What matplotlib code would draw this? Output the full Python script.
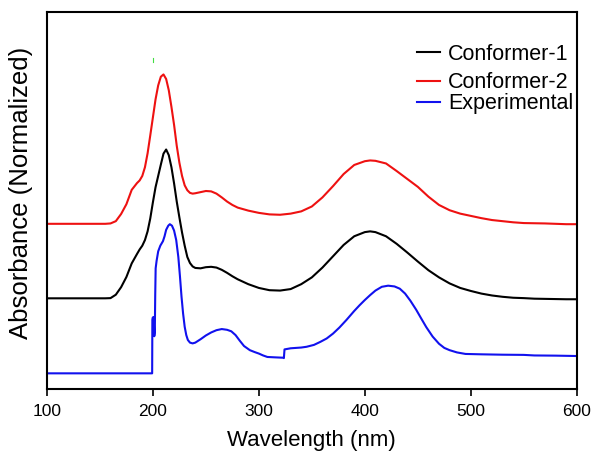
import numpy as np
from matplotlib import pyplot as plt

plt.rcParams['font.family'] = ['Liberation Sans', 'DejaVu Sans']

# computed spectra (normalized, stacked offsets)
wl = [100, 120, 140, 155, 160, 165, 170, 175, 180, 185, 187.5, 190, 192.5,
      195, 197.5, 200, 202.5, 205, 207.5, 210, 212.5, 215, 217.5, 220, 222.5,
      225, 227.5, 230, 232.5, 235, 237.5, 240, 245, 250, 255, 260, 265, 270,
      275, 280, 290, 300, 310, 320, 330, 340, 350, 360, 370, 380, 390, 400,
      405, 410, 420, 430, 440, 450, 460, 470, 480, 490, 500, 510, 520, 530,
      540, 550, 560, 570, 580, 590, 600]

conf1 = [0.2405, 0.2405, 0.2405, 0.2405, 0.241, 0.250, 0.270, 0.297, 0.333,
         0.358, 0.370, 0.380, 0.395, 0.418, 0.452, 0.495, 0.535, 0.565, 0.595,
         0.624, 0.635, 0.620, 0.588, 0.545, 0.497, 0.455, 0.415, 0.380, 0.350,
         0.334, 0.325, 0.321, 0.320, 0.323, 0.324, 0.322, 0.316, 0.308, 0.299,
         0.291, 0.278, 0.268, 0.262, 0.261, 0.265, 0.278, 0.296, 0.322, 0.352,
         0.382, 0.405, 0.416, 0.418, 0.416, 0.405, 0.385, 0.362, 0.338, 0.315,
         0.296, 0.280, 0.268, 0.260, 0.253, 0.248, 0.2445, 0.242, 0.241,
         0.2395, 0.239, 0.2385, 0.238, 0.238]

conf2 = [0.438, 0.438, 0.438, 0.438, 0.439, 0.445, 0.464, 0.490, 0.528,
         0.546, 0.553, 0.565, 0.588, 0.625, 0.672, 0.720, 0.768, 0.805, 0.828,
         0.834, 0.822, 0.792, 0.748, 0.700, 0.645, 0.600, 0.565, 0.540, 0.527,
         0.520, 0.518, 0.519, 0.522, 0.525, 0.524, 0.518, 0.508, 0.497, 0.488,
         0.481, 0.473, 0.467, 0.463, 0.462, 0.465, 0.471, 0.484, 0.508, 0.538,
         0.570, 0.594, 0.604, 0.606, 0.605, 0.598, 0.578, 0.557, 0.536, 0.510,
         0.488, 0.474, 0.465, 0.459, 0.453, 0.448, 0.445, 0.442, 0.440,
         0.4395, 0.439, 0.438, 0.437, 0.437]

# experimental spectrum
wl_exp = [100, 199.3, 199.5, 200.0, 200.4, 200.8, 201.3, 201.8, 202.2, 202.6,
          203.5, 205, 207, 209.5, 211, 212.5, 214.5, 216, 218, 220, 222, 224,
          225.5, 227, 228.5, 230, 231.5, 233, 235, 237.5, 240, 245, 250, 255,
          260, 265, 270, 274, 278, 282, 286, 291.5, 296, 300, 304, 308, 315,
          322.9, 323.6, 324.2, 330, 340, 345, 352, 358, 364, 370, 376, 382.6,
          390, 395, 400, 405, 410, 416, 422, 428, 433, 438, 443, 448.5, 453,
          458, 464, 470, 475, 480, 487, 495, 510, 530, 550, 560, 580, 600]

exp = [0.0416, 0.0416, 0.183, 0.190, 0.165, 0.190, 0.140, 0.150, 0.250,
       0.320, 0.340, 0.365, 0.380, 0.392, 0.405, 0.422, 0.433, 0.437, 0.433,
       0.420, 0.395, 0.350, 0.300, 0.245, 0.200, 0.165, 0.143, 0.130, 0.123,
       0.121, 0.123, 0.132, 0.142, 0.150, 0.156, 0.159, 0.157, 0.153, 0.143,
       0.128, 0.114, 0.103, 0.098, 0.094, 0.089, 0.085, 0.084, 0.083, 0.082,
       0.105, 0.108, 0.110, 0.112, 0.117, 0.125, 0.134, 0.147, 0.163, 0.183,
       0.207, 0.222, 0.236, 0.249, 0.261, 0.271, 0.274, 0.272, 0.266, 0.253,
       0.234, 0.210, 0.188, 0.164, 0.139, 0.120, 0.109, 0.103, 0.097, 0.093,
       0.092, 0.091, 0.0905, 0.089, 0.0885, 0.0875]

fig = plt.figure(figsize=(5.94, 4.55), dpi=100)
ax = fig.add_axes([0.079, 0.145, 0.892, 0.829])

l1, = ax.plot(wl, conf1, color='black', lw=1.5, label='Conformer-1')
l2, = ax.plot(wl, conf2, color='#ee1111', lw=1.5, label='Conformer-2')
l3, = ax.plot(wl_exp, exp, color='#1111ee', lw=1.5, label='Experimental')

# small green speck seen in the original
ax.plot([200, 200], [0.868, 0.878], color='#44dd44', lw=0.8)

ax.set_xlim(100, 600)
ax.set_ylim(0, 1)
ax.set_xticks([100, 200, 300, 400, 500, 600])
ax.set_yticks([])
ax.tick_params(axis='x', direction='out', length=5, width=1.2, pad=6,
               labelsize=12.5)
for s in ax.spines.values():
    s.set_linewidth(1.5)

ax.set_xlabel('Wavelength (nm)', fontsize=16, labelpad=8)
ax.set_ylabel('Absorbance (Normalized)', fontsize=18.5)
ax.yaxis.set_label_coords(-0.026, 0.52)

# legend: first entry sits apart, the other two are packed tight
leg_kw = dict(frameon=False, fontsize=15.5, handlelength=1.06,
              handletextpad=0.39, borderpad=0, borderaxespad=0)
leg1 = ax.legend(handles=[l1], loc='center left',
                 bbox_to_anchor=(0.698, 0.888), **leg_kw)
ax.add_artist(leg1)
ax.legend(handles=[l2, l3], loc='center left', labelspacing=0.0,
          bbox_to_anchor=(0.698, 0.784), **leg_kw)

fig.savefig('out.png', dpi=100)
